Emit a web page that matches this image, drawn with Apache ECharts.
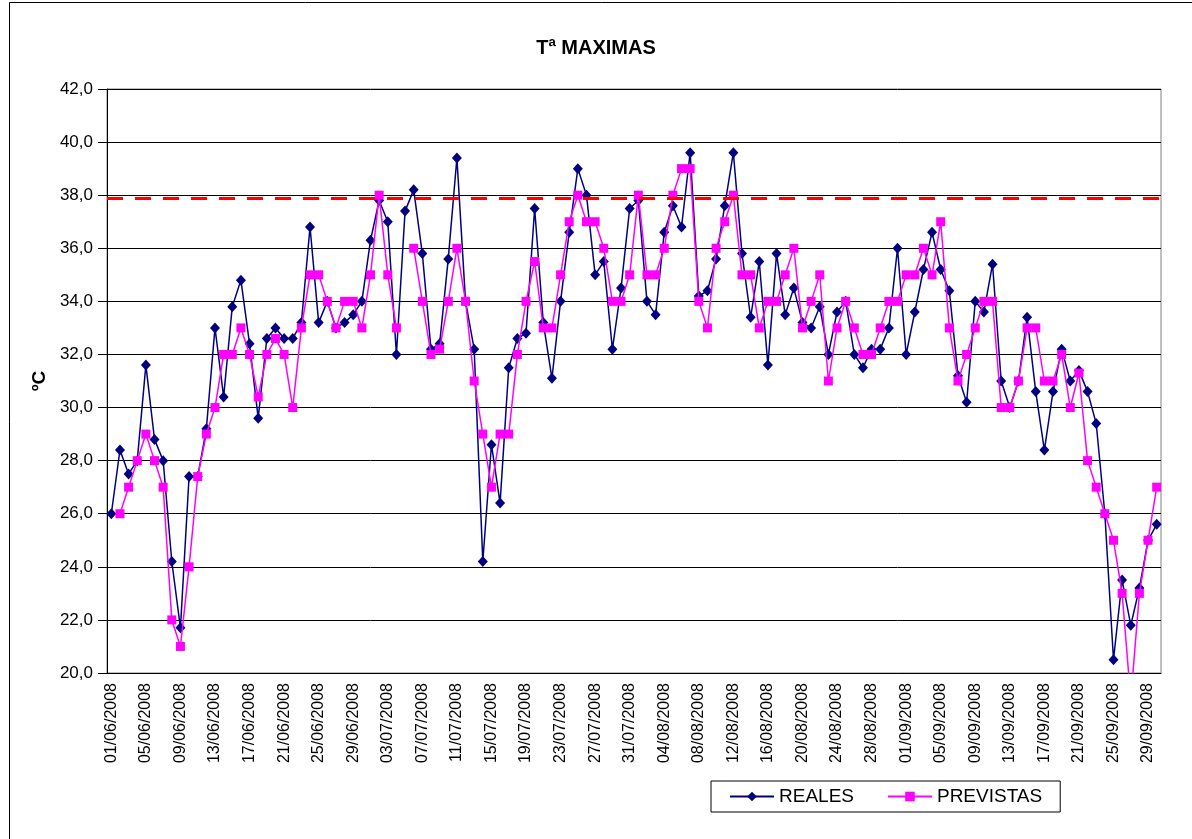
<!DOCTYPE html>
<html>
<head>
<meta charset="utf-8">
<title>Tª MAXIMAS</title>
<script src="https://cdn.jsdelivr.net/npm/echarts@6/dist/echarts.min.js"></script>
<style>
body { margin: 0; background: #fff; }
#chart_max { width: 1192px; height: 839px; }
</style>
</head>
<body>
<div id="chart_max"></div>
<script>
// meses del periodo: [mes, dias]
var meses = [[6, 30], [7, 31], [8, 31], [9, 30]];
var anyo = 2008;

var reales = [
	26.0, 28.4, 27.5, 28.0, 31.6, 28.8, 28.0, 24.2, 21.7, 27.4,
	27.4, 29.2, 33.0, 30.4, 33.8, 34.8, 32.4, 29.6, 32.6, 33.0,
	32.6, 32.6, 33.2, 36.8, 33.2, 34.0, 33.0, 33.2, 33.5, 34.0,
	36.3, 37.8, 37.0, 32.0, 37.4, 38.2, 35.8, 32.2, 32.4, 35.6,
	39.4, 34.0, 32.2, 24.2, 28.6, 26.4, 31.5, 32.6, 32.8, 37.5,
	33.2, 31.1, 34.0, 36.6, 39.0, 38.0, 35.0, 35.5, 32.2, 34.5,
	37.5, 37.8, 34.0, 33.5, 36.6, 37.6, 36.8, 39.6, 34.2, 34.4,
	35.6, 37.6, 39.6, 35.8, 33.4, 35.5, 31.6, 35.8, 33.5, 34.5,
	33.2, 33.0, 33.8, 32.0, 33.6, 34.0, 32.0, 31.5, 32.2, 32.2,
	33.0, 36.0, 32.0, 33.6, 35.2, 36.6, 35.2, 34.4, 31.2, 30.2,
	34.0, 33.6, 35.4, 31.0, 30.0, 31.0, 33.4, 30.6, 28.4, 30.6,
	32.2, 31.0, 31.4, 30.6, 29.4, 26.0, 20.5, 23.5, 21.8, 23.2,
	25.0, 25.6
];

var previstas = [
	null, 26.0, 27.0, 28.0, 29.0, 28.0, 27.0, 22.0, 21.0, 24.0,
	27.4, 29.0, 30.0, 32.0, 32.0, 33.0, 32.0, 30.4, 32.0, 32.6,
	32.0, 30.0, 33.0, 35.0, 35.0, 34.0, 33.0, 34.0, 34.0, 33.0,
	35.0, 38.0, 35.0, 33.0, null, 36.0, 34.0, 32.0, 32.2, 34.0,
	36.0, 34.0, 31.0, 29.0, 27.0, 29.0, 29.0, 32.0, 34.0, 35.5,
	33.0, 33.0, 35.0, 37.0, 38.0, 37.0, 37.0, 36.0, 34.0, 34.0,
	35.0, 38.0, 35.0, 35.0, 36.0, 38.0, 39.0, 39.0, 34.0, 33.0,
	36.0, 37.0, 38.0, 35.0, 35.0, 33.0, 34.0, 34.0, 35.0, 36.0,
	33.0, 34.0, 35.0, 31.0, 33.0, 34.0, 33.0, 32.0, 32.0, 33.0,
	34.0, 34.0, 35.0, 35.0, 36.0, 35.0, 37.0, 33.0, 31.0, 32.0,
	33.0, 34.0, 34.0, 30.0, 30.0, 31.0, 33.0, 33.0, 31.0, 31.0,
	32.0, 30.0, 31.3, 28.0, 27.0, 26.0, 25.0, 23.0, 19.0, 23.0,
	25.0, 27.0
];

// umbral marcado con la linea roja discontinua
var umbral = 37.9;

var fuente = "'Liberation Sans', Arial, sans-serif";

function dos(n) {
	return (n < 10 ? '0' : '') + n;
}

var fechas = [];
meses.forEach(function (m) {
	for (var d = 1; d <= m[1]; d++) {
		fechas.push(dos(d) + '/' + dos(m[0]) + '/' + anyo);
	}
});

function echart_max() {
var myChart = echarts.init(document.getElementById('chart_max'));

var option = {
	backgroundColor: '#fff',
	animation: false,
	textStyle: { fontFamily: fuente, color: '#000' },
	title: {
		text: 'Tª MAXIMAS',
		left: 'center',
		top: 33,
		textStyle: { fontFamily: fuente, fontSize: 20, fontWeight: 'bold', color: '#000' }
	},
	legend: {
		left: 711,
		top: 781,
		padding: [6, 18, 6, 18],
		itemGap: 33,
		itemWidth: 44,
		itemHeight: 12,
		borderColor: '#000',
		borderWidth: 1,
		textStyle: { fontFamily: fuente, fontSize: 19, color: '#000' },
		data: ['REALES', 'PREVISTAS']
	},
	graphic: [
		{
			type: 'rect',
			shape: { x: 9.5, y: 2.5, width: 1300, height: 1000 },
			style: { fill: 'none', stroke: '#000', lineWidth: 1 },
			silent: true,
			z: -10
		}
	],
	grid: {
		show: true,
		left: 107,
		right: 31,
		top: 89,
		bottom: 166,
		borderColor: '#808080',
		borderWidth: 1,
		backgroundColor: '#fff'
	},
	xAxis: {
		type: 'category',
		boundaryGap: true,
		data: fechas,
		axisLine: { lineStyle: { color: '#000', width: 1 } },
		axisTick: { interval: 3, length: 5, lineStyle: { color: '#000' } },
		axisLabel: {
			interval: 3,
			rotate: 90,
			margin: 10,
			fontSize: 16,
			fontFamily: fuente,
			color: '#000'
		},
		splitLine: { show: false }
	},
	yAxis: {
		type: 'value',
		min: 20,
		max: 42,
		interval: 2,
		name: 'ºC',
		nameLocation: 'middle',
		nameRotate: 90,
		nameGap: 58,
		nameTextStyle: { fontFamily: fuente, fontSize: 19, fontWeight: 'bold', color: '#000' },
		axisLine: { show: true, lineStyle: { color: '#000', width: 1 } },
		axisTick: { show: true, length: 9, lineStyle: { color: '#000' } },
		axisLabel: {
			margin: 14,
			fontSize: 17,
			fontFamily: fuente,
			color: '#000',
			formatter: function (v) { return v.toFixed(1).replace('.', ','); }
		},
		splitLine: { show: true, lineStyle: { color: '#000', width: 1 } }
	},
	series: [
		{
			name: 'umbral',
			type: 'line',
			data: [],
			z: 1,
			silent: true,
			markLine: {
				silent: true,
				symbol: 'none',
				label: { show: false },
				lineStyle: { color: '#ff0000', width: 3, type: [16, 12] },
				data: [{ yAxis: umbral }]
			}
		},
		{
			name: 'REALES',
			type: 'line',
			z: 2,
			data: reales,
			color: '#000080',
			symbol: 'diamond',
			symbolSize: [10, 11],
			showAllSymbol: true,
			lineStyle: { color: '#000080', width: 1.5 },
			itemStyle: { color: '#000080' }
		},
		{
			name: 'PREVISTAS',
			type: 'line',
			z: 3,
			data: previstas,
			connectNulls: false,
			color: '#ff00ff',
			symbol: 'rect',
			symbolSize: 9,
			showAllSymbol: true,
			lineStyle: { color: '#ff00ff', width: 1.5 },
			itemStyle: { color: '#ff00ff' }
		}
	]
};

myChart.setOption(option);
}

echart_max();
</script>
</body>
</html>
